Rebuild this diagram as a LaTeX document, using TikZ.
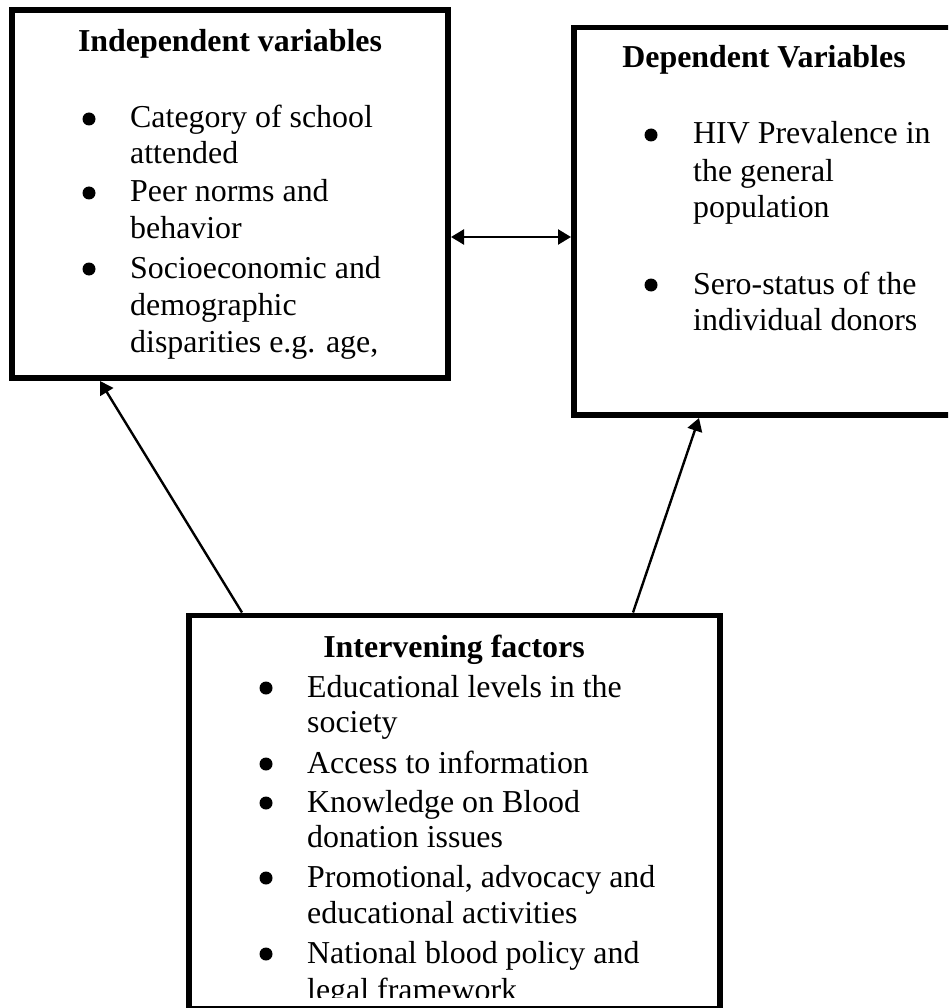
\documentclass[tikz,border=0pt]{standalone}
\usepackage{fontspec}
\setmainfont{Liberation Serif}
\usetikzlibrary{arrows.meta,calc}
\begin{document}
\begin{tikzpicture}[x=1pt,y=-1pt,
  box/.style={draw, line width=5.8pt, rectangle, inner sep=0pt, outer sep=0pt},
  ttl/.style={font=\fontsize{31.9}{36}\selectfont\bfseries, anchor=base, inner sep=0pt},
  itm/.style={font=\fontsize{31.9}{36}\selectfont, anchor=base west, inner sep=0pt},
  bul/.style={circle, fill=black, minimum size=13pt, inner sep=0pt},
  arr/.style={line width=2.4pt, -{Triangle[length=13pt,width=15pt]}},
  darr/.style={line width=2.4pt, {Triangle[length=13pt,width=15pt]}-{Triangle[length=13pt,width=15pt]}}
]
\useasboundingbox (0,0) rectangle (948,1008);
\clip (0,0) rectangle (948,1008);
\fill[white] (0,0) rectangle (948,1008);

% boxes
\node[box, minimum width=436pt, minimum height=368pt] (iv) at (230,194) {};
\node[box, minimum width=386pt, minimum height=387.5pt] (dv) at (767,221.25) {};
\node[box, minimum width=531pt, minimum height=393.5pt] (inf) at (454.5,812.25) {};

% independent variables
\node[ttl] (ivt) at (230,52) {Independent variables};
\node[bul] (ivb1) at (89,119) {};
\node[itm] (iv1) at (130,128) {Category of school};
\node[itm] (iv2) at (130,164) {attended};
\node[bul] (ivb2) at (89,193) {};
\node[itm] (iv3) at (130,202) {Peer norms and};
\node[itm] (iv4) at (130,238) {behavior};
\node[bul] (ivb3) at (89,269) {};
\node[itm] (iv5) at (130,278) {Socioeconomic and};
\node[itm] (iv6) at (130,315) {demographic};
\node[itm] (iv7) at (130,352) {disparities e.g. age,};

% dependent variables
\node[ttl] (dvt) at (764,68) {Dependent Variables};
\node[bul] (dvb1) at (651,135) {};
\node[itm] (dv1) at (693,144) {HIV Prevalence in};
\node[itm] (dv2) at (693,182) {the general};
\node[itm] (dv3) at (693,218) {population};
\node[bul] (dvb2) at (651,285) {};
\node[itm] (dv4) at (693,294) {Sero-status of the};
\node[itm] (dv5) at (693,330) {individual donors};

% intervening factors
\begin{scope}
\clip (0,0) rectangle (948,997);
\node[ttl] (inft) at (454,657) {Intervening factors};
\node[bul] (infb1) at (266,688) {};
\node[itm] (inf1) at (307,697) {Educational levels in the};
\node[itm] (inf2) at (307,732) {society};
\node[bul] (infb2) at (266,764) {};
\node[itm] (inf3) at (307,773) {Access to information};
\node[bul] (infb3) at (266,803) {};
\node[itm] (inf4) at (307,812) {Knowledge on Blood};
\node[itm] (inf5) at (307,847) {donation issues};
\node[bul] (infb4) at (266,878) {};
\node[itm] (inf6) at (307,887) {Promotional, advocacy and};
\node[itm] (inf7) at (307,923) {educational activities};
\node[bul] (infb5) at (266,954) {};
\node[itm] (inf8) at (307,963) {National blood policy and};
\node[itm] (inf9) at (307,1000) {legal framework};
\end{scope}

% connectors
\draw[darr] ($(iv.north east)+(3,227)$) -- ($(dv.north west)+(-3,209.5)$);
\draw[arr] ($(inf.north west)+(53,-3)$) -- ($(iv.south west)+(88,3)$);
\draw[arr] ($(inf.north west)+(444,-3)$) -- ($(dv.south west)+(125,3)$);
\end{tikzpicture}
\end{document}
